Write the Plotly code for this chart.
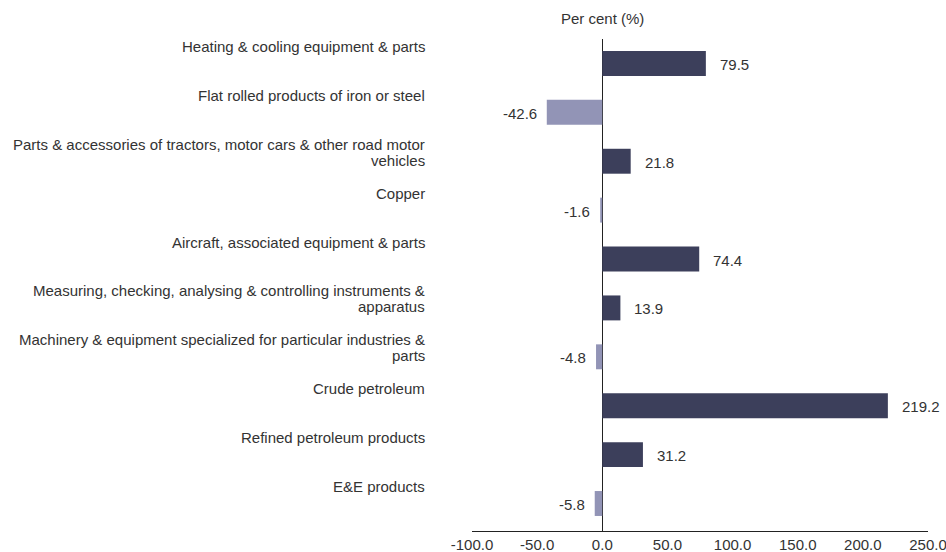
import plotly.graph_objects as go

# Product groups (top to bottom) and their year-on-year change, per cent
categories = [
    "Heating & cooling equipment & parts",
    "Flat rolled products of iron or steel",
    "Parts & accessories of tractors, motor cars & other road motor<br>vehicles",
    "Copper",
    "Aircraft, associated equipment & parts",
    "Measuring, checking, analysing & controlling instruments &<br>apparatus",
    "Machinery & equipment specialized for particular industries &<br>parts",
    "Crude petroleum",
    "Refined petroleum products",
    "E&E products",
]
change_pct = [79.5, -42.6, 21.8, -1.6, 74.4, 13.9, -4.8, 219.2, 31.2, -5.8]
x_ticks = [-100, -50, 0, 50, 100, 150, 200, 250]
x_tick_text = [f"{t:.1f}" for t in x_ticks]
unit_label = "Per cent (%)"

POS_COLOR = "#3c3f5b"
NEG_COLOR = "#9294b6"
TEXT_COLOR = "#333333"
FONT = "Liberation Sans, Arial, sans-serif"

fig = go.Figure(
    go.Bar(
        x=change_pct,
        y=categories,
        orientation="h",
        marker=dict(
            color=[POS_COLOR if v >= 0 else NEG_COLOR for v in change_pct],
            line=dict(width=0),
        ),
        hoverinfo="x+y",
    )
)

annotations = []
# category names sit above-left of each bar, one annotation per text line
for cat in categories:
    lines = cat.split("<br>")
    for i, line in enumerate(lines):
        annotations.append(dict(
            x=0, xref="paper", xanchor="right", xshift=-45,
            y=cat, yref="y", yanchor="middle", yshift=17 - 16 * i,
            text=line, showarrow=False,
            font=dict(family=FONT, size=15, color=TEXT_COLOR),
        ))

# value labels at the end of each bar
for cat, v in zip(categories, change_pct):
    annotations.append(dict(
        x=v, xref="x", xanchor="left" if v >= 0 else "right",
        xshift=12 if v >= 0 else -8,
        y=cat, yref="y", yanchor="middle", yshift=-1,
        text=f"{v:.1f}", showarrow=False,
        font=dict(family=FONT, size=15, color=TEXT_COLOR),
    ))

annotations.append(dict(
    x=0, xref="x", xanchor="center",
    y=1, yref="paper", yanchor="bottom", yshift=10,
    text=unit_label, showarrow=False,
    font=dict(family=FONT, size=15, color=TEXT_COLOR),
))

fig.update_layout(
    width=946, height=552,
    margin=dict(l=472, r=18, t=39, b=21, autoexpand=False),
    paper_bgcolor="white", plot_bgcolor="white",
    bargap=0.49,
    showlegend=False,
    font=dict(family=FONT, size=15, color=TEXT_COLOR),
    annotations=annotations,
    xaxis=dict(
        range=[-100, 250], tickvals=x_ticks, ticktext=x_tick_text,
        ticklabeloverflow="allow",
        showgrid=False, zeroline=True, zerolinecolor="#222222", zerolinewidth=1,
        showline=True, linecolor="#222222", linewidth=1, ticks="",
        tickfont=dict(family=FONT, size=15, color=TEXT_COLOR),
        automargin=False, fixedrange=True,
    ),
    yaxis=dict(
        autorange="reversed", showticklabels=False, showgrid=False,
        zeroline=False, showline=False, ticks="", automargin=False,
        fixedrange=True,
    ),
)

fig.write_html("out.html", config={"displayModeBar": False})
